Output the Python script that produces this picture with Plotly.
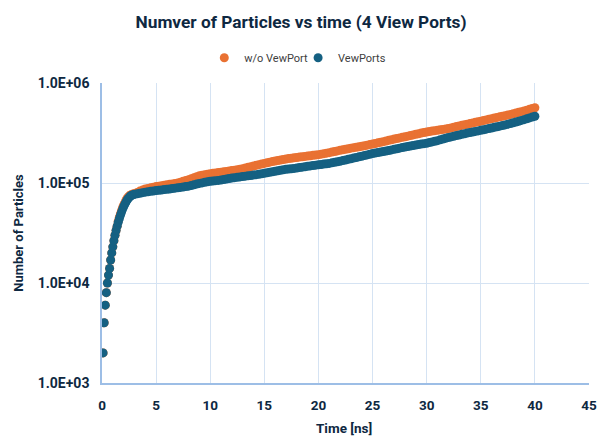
import numpy as np
import plotly.graph_objects as go

# ---- data ----
time_early = [round(0.1 * k, 1) for k in range(1, 31)]          # 0.1 .. 3.0 ns
time_late = [round(3.0 + 0.25 * k, 2) for k in range(1, 149)]    # 3.25 .. 40 ns
time_ns = time_early + time_late

vewports_early = [2000, 4000, 6000, 8000, 10000, 12000, 14000, 17000, 20000, 23000,
                  26500, 30000, 33500, 37000, 40500, 44000, 47500, 51000, 54500, 58000,
                  61000, 64000, 67000, 69500, 71500, 73500, 75000, 76000, 76500, 77000]
vewports_late = [
    78000, 79000, 80000, 81000,
    81800, 82500, 83200, 84000,
    84600, 85200, 85900, 86500,
    87200, 88000, 88800, 89500,
    90300, 91200, 92100, 93000,
    94500, 96000, 97500, 99000,
    100200, 101500, 102800, 104000,
    104800, 105500, 106200, 107000,
    108200, 109500, 110800, 112000,
    113000, 114000, 115000, 116000,
    117000, 118000, 119000, 120000,
    121200, 122400, 123700, 125000,
    126500, 128000, 129500, 131000,
    132500, 134000, 135500, 137000,
    138000, 139000, 140000, 141000,
    142500, 144000, 145500, 147000,
    148200, 149500, 150700, 152000,
    153200, 154500, 155700, 157000,
    159000, 161000, 163000, 165000,
    167500, 170000, 172500, 175000,
    177500, 180000, 182500, 185000,
    188000, 191000, 194000, 197000,
    199200, 201500, 203700, 206000,
    208700, 211500, 214200, 217000,
    220000, 223000, 226000, 229000,
    231700, 234500, 237200, 240000,
    242500, 245000, 247500, 250000,
    253700, 257500, 261200, 265000,
    270000, 275000, 280000, 285000,
    289000, 293500, 297800, 302000,
    306500, 311000, 315500, 320000,
    324000, 328000, 332000, 336000,
    340700, 345500, 350200, 355000,
    360000, 365000, 370000, 375000,
    381000, 387500, 393700, 400000,
    407500, 415000, 422500, 430000,
    438700, 447500, 456200, 465000,
]
vewports = vewports_early + vewports_late

no_vewport_early = [2000, 4000, 6000, 8000, 10000, 12000, 14000, 17000, 20000, 23000,
                    26500, 30000, 33500, 37000, 41500, 45500, 49000, 53000, 56500, 60000,
                    63000, 66500, 69500, 72000, 74000, 75500, 76500, 77000, 77500, 78000]
no_vewport_late = [
    80500, 83000, 85000, 87000,
    88300, 89500, 90700, 92000,
    93000, 94000, 95000, 96000,
    97000, 98000, 99000, 100000,
    102000, 104000, 106000, 108000,
    110500, 113000, 115500, 118000,
    119500, 121000, 122500, 124000,
    125000, 126000, 127000, 128000,
    129200, 130500, 131700, 133000,
    134500, 136000, 137500, 139000,
    141200, 143500, 145700, 148000,
    150200, 152500, 154700, 157000,
    159200, 161500, 163700, 166000,
    168000, 170000, 172000, 174000,
    175500, 177000, 178500, 180000,
    181500, 183000, 184500, 186000,
    187500, 189000, 190500, 192000,
    194200, 196500, 198700, 201000,
    203700, 206500, 209200, 212000,
    214700, 217500, 220200, 223000,
    225500, 228000, 230500, 233000,
    236000, 239000, 242000, 245000,
    248500, 252000, 255500, 259000,
    263000, 267000, 271000, 275000,
    278700, 282500, 286200, 290000,
    294200, 298500, 302700, 307000,
    311200, 315500, 319700, 324000,
    327200, 330500, 333700, 337000,
    340200, 343500, 346700, 350000,
    355500, 361000, 366500, 372000,
    377200, 382500, 387700, 393000,
    398500, 404000, 409500, 415000,
    421200, 427500, 433700, 440000,
    446200, 452500, 458700, 465000,
    471700, 478500, 485200, 492000,
    500200, 508500, 516700, 525000,
    535200, 545500, 555700, 566000,
]
no_vewport = no_vewport_early + no_vewport_late

x_ticks = [0, 5, 10, 15, 20, 25, 30, 35, 40, 45]
y_ticks = [1e3, 1e4, 1e5, 1e6]
y_tick_labels = ["1.0E+03", "1.0E+04", "1.0E+05", "1.0E+06"]

# ---- figure ----
ORANGE = "#E97132"
BLUE = "#156082"
NAVY = "#0E2841"
FONT = "Roboto, Arial, sans-serif"

W, H = 597, 436
ML, MT = 101.5, 83.3
MR = W - 589.5
MB = H - 383.3
PW = W - ML - MR
PH = H - MT - MB

fig = go.Figure()
fig.add_trace(go.Scatter(x=time_ns, y=no_vewport, mode="markers", name="w/o VewPort",
                         legend="legend",
                         marker=dict(color=ORANGE, size=9, line=dict(width=0))))
fig.add_trace(go.Scatter(x=time_ns, y=vewports, mode="markers", name="VewPorts",
                         legend="legend2",
                         marker=dict(color=BLUE, size=9, line=dict(width=0))))

legend_common = dict(orientation="h", xanchor="left", yanchor="middle",
                     y=(383.3 - 58) / PH, bgcolor="rgba(0,0,0,0)",
                     font=dict(size=11, color="#404040", family=FONT),
                     itemwidth=30, tracegroupgap=0)

fig.update_layout(
    width=W, height=H,
    margin=dict(l=ML, r=MR, t=MT, b=MB, autoexpand=False),
    paper_bgcolor="white", plot_bgcolor="white",
    font=dict(family=FONT, color=NAVY),
    title=dict(text="<b>Numver of Particles vs time (4 View Ports)</b>",
               x=301 / W, xanchor="center", xref="container",
               y=1 - 22 / H, yanchor="middle", yref="container",
               automargin=False,
               font=dict(size=17.3, color=NAVY, family=FONT)),
    legend=dict(x=(204 - ML) / PW, **legend_common),
    legend2=dict(x=(298 - ML) / PW, **legend_common),
    showlegend=True,
    annotations=[
        dict(text="<b>Time [ns]</b>", xref="paper", yref="paper",
             x=(344 - ML) / PW, y=-(428 - 383.3) / PH,
             xanchor="center", yanchor="middle", showarrow=False,
             font=dict(size=13.5, color=NAVY, family=FONT)),
        dict(text="<b>Number of Particles</b>", xref="paper", yref="paper",
             x=-(ML - 17) / PW, y=0.5, textangle=-90,
             xanchor="center", yanchor="middle", showarrow=False,
             font=dict(size=13, color=NAVY, family=FONT)),
    ],
)
fig.update_xaxes(
    range=[0, 45], tickmode="array", tickvals=x_ticks,
    ticktext=[f"<b>{v}</b>" for v in x_ticks],
    tickfont=dict(size=13.5, color=NAVY, family=FONT),
    showgrid=True, gridcolor="#D5E3F3", gridwidth=1,
    showline=True, linecolor="#9DBEE6", linewidth=1.5,
    zeroline=False, ticks="", ticklabelstandoff=9, automargin=False,
    ticklabeloverflow="allow",
)
fig.update_yaxes(
    type="log", range=[3, 6], tickmode="array", tickvals=y_ticks,
    ticktext=[f"<b>{t}</b>" for t in y_tick_labels],
    tickfont=dict(size=14, color=NAVY, family=FONT),
    showgrid=True, gridcolor="#D5E3F3", gridwidth=1,
    showline=True, linecolor="#9DBEE6", linewidth=1.5,
    zeroline=False, ticks="", ticklabelstandoff=8, automargin=False,
)

fig.write_html("out.html",
               config={"displayModeBar": False},
               post_script="document.body.style.margin='0';document.body.style.overflow='hidden';")
